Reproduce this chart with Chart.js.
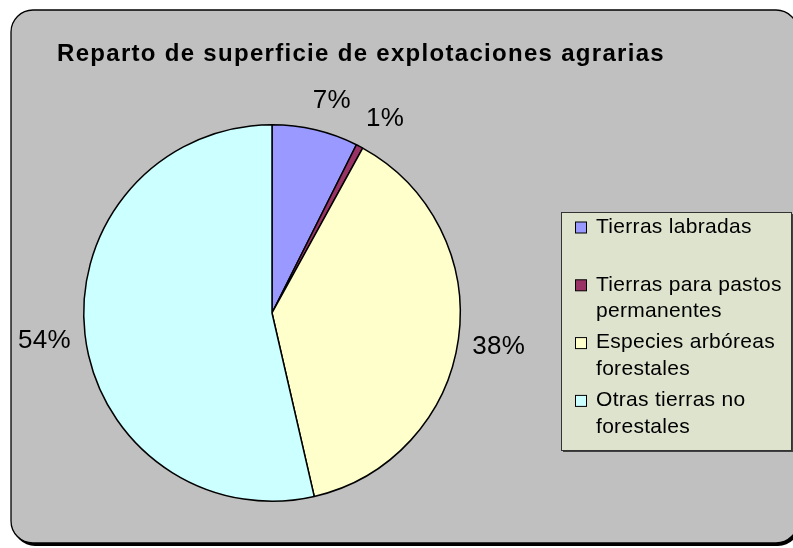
<!DOCTYPE html>
<html>
<head>
<meta charset="utf-8">
<script src="https://cdn.jsdelivr.net/npm/chart.js@4"></script>
<style>
  body { margin: 0; background: #fff; }
  canvas { display: block; }
</style>
</head>
<body>
<canvas id="myChart" width="793" height="548"></canvas>
<script>
const titulo = "Reparto de superficie de explotaciones agrarias";
const categorias = ["Tierras labradas", "Tierras para pastos permanentes", "Especies arbóreas forestales", "Otras tierras no forestales"];
const lineasLeyenda = [["Tierras labradas"], ["Tierras para pastos", "permanentes"], ["Especies arbóreas", "forestales"], ["Otras tierras no", "forestales"]];
const valores = [7.4, 0.6, 38.4, 53.6];
const colores = ["#9999ff", "#993366", "#ffffcc", "#ccffff"];

const chartDOM = document.getElementById("myChart");
const FUENTE = '"Liberation Sans", Arial, sans-serif';

function rectRedondo(ctx, x, y, w, h, r) {
  ctx.beginPath();
  ctx.moveTo(x + r, y);
  ctx.lineTo(x + w - r, y);
  ctx.arcTo(x + w, y, x + w, y + r, r);
  ctx.lineTo(x + w, y + h - r);
  ctx.arcTo(x + w, y + h, x + w - r, y + h, r);
  ctx.lineTo(x + r, y + h);
  ctx.arcTo(x, y + h, x, y + h - r, r);
  ctx.lineTo(x, y + r);
  ctx.arcTo(x, y, x + r, y, r);
  ctx.closePath();
}

const clamp = (v) => Math.max(-1, Math.min(1, v));

const fondo = {
  id: "fondo",
  beforeDraw(chart) {
    const ctx = chart.ctx;
    ctx.save();
    ctx.fillStyle = "#fff";
    ctx.fillRect(0, 0, chart.width, chart.height);
    rectRedondo(ctx, 13, 13, 787, 533, 22);
    ctx.fillStyle = "#000";
    ctx.fill();
    rectRedondo(ctx, 11, 10, 787, 533, 22);
    ctx.fillStyle = "#c0c0c0";
    ctx.fill();
    ctx.lineWidth = 1.3;
    ctx.strokeStyle = "#000";
    ctx.stroke();
    ctx.restore();
  },
  afterDraw(chart) {
    const ctx = chart.ctx;
    ctx.save();
    // titulo
    ctx.fillStyle = "#000";
    ctx.font = "bold 24px " + FUENTE;
    ctx.letterSpacing = "1.3px";
    ctx.textAlign = "center";
    ctx.textBaseline = "alphabetic";
    ctx.fillText(titulo, 361, 61);

    // porcentajes
    const total = valores.reduce((a, b) => a + b, 0);
    ctx.font = "26px " + FUENTE;
    ctx.letterSpacing = "0.3px";
    ctx.textBaseline = "middle";
    const meta = chart.getDatasetMeta(0);
    meta.data.forEach((arc, i) => {
      const p = arc.getProps(["x", "y", "startAngle", "endAngle", "outerRadius"], true);
      const mid = (p.startAngle + p.endAngle) / 2;
      const txt = Math.round(valores[i] / total * 100) + "%";
      const w = ctx.measureText(txt).width;
      const h = 30;
      const d = p.outerRadius + 14;
      const px = p.x + Math.cos(mid) * d;
      const py = p.y + Math.sin(mid) * d;
      ctx.fillText(txt, px + clamp(Math.cos(mid) * 3) * w / 2, py + clamp(Math.sin(mid) * 3) * h / 2);
    });

    // leyenda
    const lx = 561, ly = 212, lw = 230, lh = 238;
    ctx.fillStyle = "#404040";
    ctx.fillRect(lx + 2, ly + 2, lw, lh);
    ctx.fillStyle = "#dee3ce";
    ctx.fillRect(lx, ly, lw, lh);
    ctx.lineWidth = 1;
    ctx.strokeStyle = "#333";
    ctx.strokeRect(lx + 0.5, ly + 0.5, lw, lh);

    ctx.font = "21px " + FUENTE;
    ctx.letterSpacing = "0.3px";
    ctx.textAlign = "left";
    lineasLeyenda.forEach((lineas, i) => {
      const y0 = 227 + i * 57.8;
      ctx.fillStyle = colores[i];
      ctx.fillRect(575.5, y0 - 5, 11, 11);
      ctx.strokeStyle = "#000";
      ctx.strokeRect(575.5, y0 - 5, 11, 11);
      ctx.fillStyle = "#000";
      lineas.forEach((t, j) => ctx.fillText(t, 596, y0 + j * 26.5));
    });
    ctx.restore();
  }
};

new Chart(chartDOM, {
  type: "pie",
  data: {
    labels: categorias,
    datasets: [{
      data: valores,
      backgroundColor: colores,
      borderColor: "#000",
      borderWidth: 1.5
    }]
  },
  options: {
    responsive: false,
    animation: false,
    events: [],
    layout: { padding: { left: 83, right: 332, top: 124, bottom: 46 } },
    plugins: {
      legend: { display: false },
      tooltip: { enabled: false }
    }
  },
  plugins: [fondo]
});
</script>
</body>
</html>
